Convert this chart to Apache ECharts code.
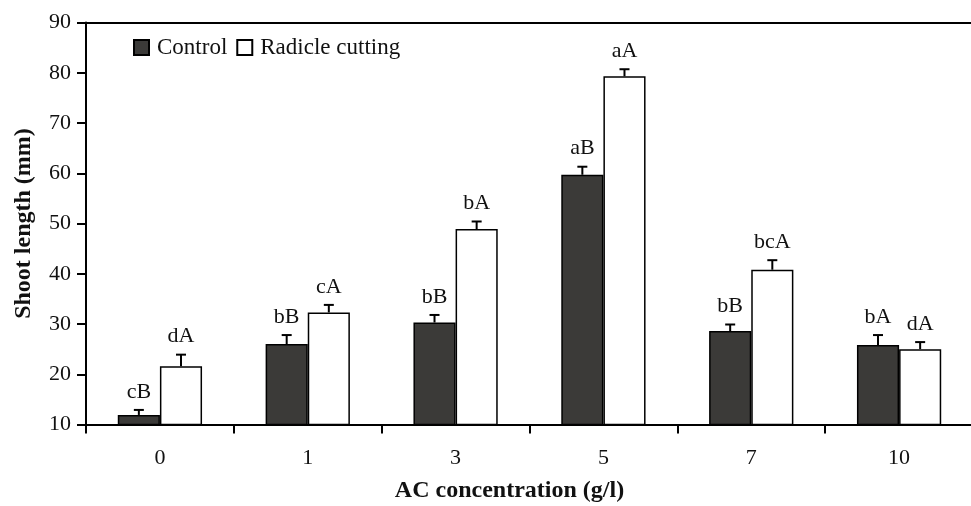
<!DOCTYPE html>
<html>
<head>
<meta charset="utf-8">
<script src="https://cdn.jsdelivr.net/npm/echarts@6/dist/echarts.min.js"></script>
<style>html,body{margin:0;padding:0;background:#fff;}#c{width:971px;height:506px;}</style>
</head>
<body>
<div id="c"></div>
<script>
const categories = ['0', '1', '3', '5', '7', '10'];
const control = [11.9, 26.0, 30.3, 59.7, 28.6, 25.8];
const radicle = [21.6, 32.3, 48.9, 79.3, 40.8, 25.0];
const controlErr = [1.0, 1.8, 1.5, 1.6, 1.3, 2.0];
const radicleErr = [2.3, 1.5, 1.5, 1.4, 1.9, 1.4];
const controlLetters = ['cB', 'bB', 'bB', 'aB', 'bB', 'bA'];
const radicleLetters = ['dA', 'cA', 'bA', 'aA', 'bcA', 'dA'];

const FONT = 'Liberation Serif';
const GAP = 0.43;

function errSeries(name, vals, errs, letters, side) {
  return {
    type: 'custom',
    name: name + ' err',
    z: 5,
    silent: true,
    data: vals.map((v, i) => [i, v, errs[i]]),
    renderItem: function (params, api) {
      const i = api.value(0);
      const v = api.value(1);
      const e = api.value(2);
      const band = api.size([1, 0])[0];
      const off = side * band * (1 - GAP) / 4;
      const p0 = api.coord([i, v]);
      const p1 = api.coord([i, v + e]);
      const x = p0[0] + off;
      const cap = 5;
      return {
        type: 'group',
        children: [
          { type: 'line', shape: { x1: x, y1: p0[1], x2: x, y2: p1[1] }, style: { stroke: '#000', lineWidth: 2 } },
          { type: 'line', shape: { x1: x - cap, y1: p1[1], x2: x + cap, y2: p1[1] }, style: { stroke: '#000', lineWidth: 2 } },
          { type: 'text', x: x, y: p1[1] - 7, style: { text: letters[i], fill: '#111', fontFamily: FONT, fontSize: 22, align: 'center', verticalAlign: 'bottom' } }
        ]
      };
    }
  };
}

const chart = echarts.init(document.getElementById('c'), null, { renderer: 'canvas' });
chart.setOption({
  animation: false,
  backgroundColor: '#fff',
  textStyle: { fontFamily: FONT },
  grid: { left: 86, top: 22.5, right: -2, bottom: 81.5, containLabel: false, outerBoundsMode: 'none' },
  legend: {
    left: 128, top: 31,
    itemWidth: 15, itemHeight: 15, itemGap: 9,
    icon: 'rect',
    textStyle: { fontFamily: FONT, fontSize: 23, color: '#111', padding: [0, 0, 0, 3] },
    data: ['Control', 'Radicle cutting']
  },
  xAxis: [{
    type: 'category',
    data: categories,
    position: 'bottom',
    axisLine: { lineStyle: { color: '#000', width: 2 } },
    axisTick: { show: true, inside: false, length: 9, lineStyle: { color: '#000', width: 2 } },
    axisLabel: { color: '#111', fontSize: 22, fontFamily: FONT, margin: 23 },
    name: 'AC concentration (g/l)',
    nameLocation: 'middle',
    nameGap: 54,
    nameTextStyle: { fontFamily: FONT, fontWeight: 'bold', fontSize: 24, color: '#111', padding: [0, 40, 0, 0] }
  }, {
    type: 'category',
    data: categories,
    position: 'top',
    axisLine: { show: true, lineStyle: { color: '#000', width: 2 } },
    axisTick: { show: false },
    axisLabel: { show: false }
  }],
  yAxis: {
    type: 'value',
    min: 10, max: 90, interval: 10,
    axisLine: { show: true, lineStyle: { color: '#000', width: 2 } },
    axisTick: { show: true, inside: false, length: 9, lineStyle: { color: '#000', width: 2 } },
    splitLine: { show: false },
    axisLabel: { color: '#111', fontSize: 22, fontFamily: FONT, margin: 15 },
    name: 'Shoot length (mm)',
    nameLocation: 'middle',
    nameGap: 50,
    nameTextStyle: { fontFamily: FONT, fontWeight: 'bold', fontSize: 24, color: '#111' }
  },
  series: [
    {
      name: 'Control', type: 'bar', data: control,
      barGap: '0%', barCategoryGap: (GAP * 100) + '%',
      itemStyle: { color: '#3b3a38', borderColor: '#000', borderWidth: 1.5 }
    },
    {
      name: 'Radicle cutting', type: 'bar', data: radicle,
      itemStyle: { color: '#fff', borderColor: '#000', borderWidth: 1.5 }
    },
    errSeries('Control', control, controlErr, controlLetters, -1),
    errSeries('Radicle cutting', radicle, radicleErr, radicleLetters, 1)
  ]
});
</script>
</body>
</html>
